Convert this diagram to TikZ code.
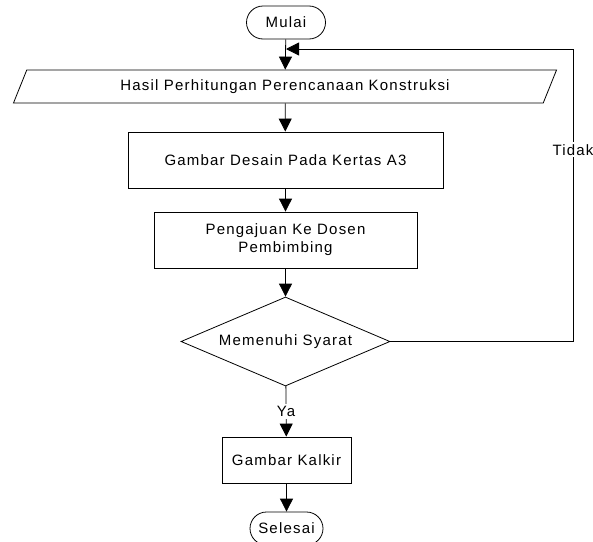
\documentclass[tikz,border=0pt]{standalone}
\usepackage{fontspec}
\usetikzlibrary{shapes.geometric,shapes.misc,arrows.meta}
\newfontfamily\flowfamily[LetterSpace=8]{Liberation Sans}
\newcommand\flowtext{\flowfamily\fontsize{15pt}{18pt}\selectfont}
\begin{document}
\begin{tikzpicture}[x=1pt,y=-1pt,
  base/.style={draw, line width=0.8pt, font=\flowtext, inner sep=0pt, align=center},
  term/.style={base, rounded rectangle, minimum width=79pt, minimum height=33pt},
  proc/.style={base, rectangle},
  io/.style={base, trapezium, trapezium left angle=58.8, trapezium right angle=121.2,
    trapezium stretches=true, minimum width=544pt, minimum height=33pt},
  decide/.style={base, diamond, aspect=2.35, minimum width=209pt, minimum height=89pt},
  flow/.style={line width=0.8pt, -{Triangle[width=13pt,length=13pt]}},
  plain/.style={line width=0.8pt},
  tag/.style={fill=white, font=\flowtext, inner sep=2pt}]
\useasboundingbox (0,0) rectangle (593,541);

% main column
\node[term] (start) at (286,22.5) {Mulai};
\node[io] (input) at (285,86.5) {Hasil Perhitungan Perencanaan Konstruksi};
\node[proc, minimum width=315pt, minimum height=56pt] (design) at (285.5,160) {Gambar Desain Pada Kertas A3};
\node[proc, minimum width=263pt, minimum height=56pt] (submit) at (285.5,240) {Pengajuan Ke Dosen\\Pembimbing};
\node[decide] (check) at (285.5,341.5) {Memenuhi Syarat};
\node[proc, minimum width=129pt, minimum height=46pt] (trace) at (286.5,460) {Gambar Kalkir};
\node[term, minimum width=73pt] (finish) at (286.5,528.5) {Selesai};

% loop-back corner points
\coordinate (merge) at (start.south |- 0,49);
\coordinate (rightlow) at (573,341.5);
\coordinate (righthigh) at (573,49);

% connectors
\draw[flow] (start) -- (input);
\draw[flow] (input) -- (design);
\draw[flow] (design) -- (submit);
\draw[flow] (submit) -- (check);
\draw[flow] (check) -- node[tag, pos=0.5] {Ya} (trace);
\draw[flow] (trace) -- (finish);
\draw[plain] (check.east) -- (rightlow) -- node[tag, pos=0.655] {Tidak} (righthigh);
\draw[flow] (righthigh) -- (merge);
\end{tikzpicture}
\end{document}
